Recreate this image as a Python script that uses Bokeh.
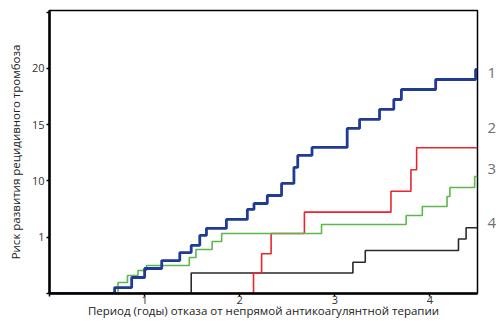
from bokeh.plotting import figure
from bokeh.models import FixedTicker, LinearAxis
from bokeh.embed import file_html
from bokeh.resources import INLINE

# Cumulative risk step curves (years, risk)
blue_t = [0, 0.685, 0.864, 1.0, 1.18, 1.37, 1.49, 1.58, 1.65, 1.86, 2.08, 2.15, 2.29, 2.44,
          2.57, 2.61, 2.76, 3.13, 3.26, 3.47, 3.62, 3.70, 4.06, 4.48, 4.5]
blue_y = [0, 0.53, 1.42, 2.22, 2.93, 3.64, 4.27, 5.16, 5.78, 6.58, 7.47, 8.0, 8.71, 9.78,
          11.2, 12.27, 12.98, 14.67, 15.47, 16.36, 17.24, 18.13, 19.02, 19.91, 19.91]

green_t = [0, 0.72, 0.82, 0.93, 1.02, 1.47, 1.54, 1.71, 1.81, 2.86, 3.75, 3.92, 4.18, 4.21, 4.47, 4.5]
green_y = [0, 0.98, 1.6, 2.04, 2.49, 3.2, 3.91, 4.62, 5.33, 6.13, 6.93, 7.73, 8.62, 9.42, 10.4, 10.4]

red_t = [0, 2.145, 2.23, 2.33, 2.68, 3.59, 3.80, 3.86, 4.5]
red_y = [0, 1.84, 3.53, 5.33, 7.23, 9.09, 11.0, 12.95, 12.95]

black_t = [0, 1.49, 3.19, 3.32, 4.30, 4.38, 4.5]
black_y = [0, 1.82, 2.78, 3.82, 4.84, 5.84, 5.84]

x_ticks = [0, 1, 2, 3, 4]
x_tick_labels = ["", "1", "2", "3", "4"]
y_ticks = [0, 5, 10, 15, 20, 25]
y_tick_labels = ["", "1", "10", "15", "20", ""]

curve_labels = ["1", "2", "3", "4"]
curve_label_y = [19.6, 14.7, 11.1, 6.3]

FONT = "Open Sans"

p = figure(width=499, height=321, x_range=(0, 4.5), y_range=(0, 25.15),
           output_backend="svg", toolbar_location=None,
           min_border_left=49, min_border_right=21, min_border_top=10, min_border_bottom=28)

p.xgrid.visible = False
p.ygrid.visible = False
p.outline_line_color = "black"
p.outline_line_width = 1.5
p.outline_line_alpha = 1.0

p.step(black_t, black_y, mode="after", line_color="#2a2a2a", line_width=1.6)
p.step(red_t, red_y, mode="after", line_color="#e8262c", line_width=1.6)
p.step(green_t, green_y, mode="after", line_color="#5cb84a", line_width=1.6)
p.step(blue_t, blue_y, mode="after", line_color="#1f3b94", line_width=2.8)

for ax in (p.xaxis[0], p.yaxis[0]):
    ax.axis_line_color = "black"
    ax.axis_line_width = 2.5
    ax.major_tick_line_color = "black"
    ax.major_tick_line_width = 1.5
    ax.major_tick_out = 3
    ax.major_tick_in = 0
    ax.minor_tick_line_color = None
    ax.major_label_text_font = FONT
    ax.major_label_text_font_size = "11px"
    ax.major_label_text_color = "#333333"
    ax.axis_label_text_font = FONT
    ax.axis_label_text_font_size = "11.5px"
    ax.axis_label_text_font_style = "normal"
    ax.axis_label_text_color = "#222222"
    ax.major_label_standoff = 2

p.xaxis[0].ticker = FixedTicker(ticks=x_ticks)
p.xaxis[0].major_label_overrides = {t: l for t, l in zip(x_ticks, x_tick_labels)}
p.yaxis[0].ticker = FixedTicker(ticks=y_ticks)
p.yaxis[0].major_label_overrides = {t: l for t, l in zip(y_ticks, y_tick_labels)}

p.xaxis[0].axis_label = "Период (годы) отказа от непрямой антикоагулянтной терапии"
p.yaxis[0].axis_label = "Риск развития рецидивного тромбоза"
p.xaxis[0].major_label_standoff = -1
p.xaxis[0].axis_label_standoff = -4
p.yaxis[0].axis_label_standoff = 6

# curve numbers on the right side
right_axis = LinearAxis(ticker=FixedTicker(ticks=curve_label_y),
                        major_label_overrides={y: l for y, l in zip(curve_label_y, curve_labels)},
                        axis_line_color=None, major_tick_line_color=None,
                        minor_tick_line_color=None, major_tick_out=0, major_tick_in=0,
                        major_label_standoff=10, major_label_text_font=FONT,
                        major_label_text_font_size="15px", major_label_text_color="#707070")
p.add_layout(right_axis, "right")

open("out.html", "w").write(file_html(p, INLINE))
